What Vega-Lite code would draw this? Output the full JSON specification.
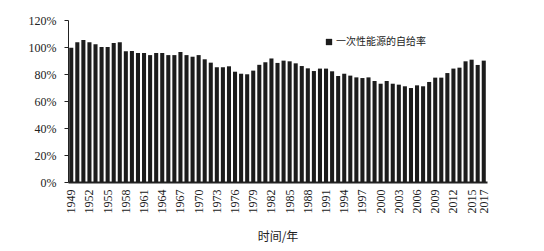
{
  "$schema": "https://vega.github.io/schema/vega-lite/v6.json",
  "width": 419,
  "height": 162,
  "autosize": {"type": "none"},
  "padding": {"left": 68, "top": 20, "right": 57, "bottom": 69},
  "background": "white",
  "config": {"view": {"stroke": null}, "font": "Liberation Serif"},
  "data": {"values": [
    {"year": 1949, "rate": 99.5}, {"year": 1950, "rate": 103.5}, {"year": 1951, "rate": 105.1},
    {"year": 1952, "rate": 103.5}, {"year": 1953, "rate": 102.1}, {"year": 1954, "rate": 100},
    {"year": 1955, "rate": 100}, {"year": 1956, "rate": 103}, {"year": 1957, "rate": 103.5},
    {"year": 1958, "rate": 96.8}, {"year": 1959, "rate": 97}, {"year": 1960, "rate": 95.6},
    {"year": 1961, "rate": 95.6}, {"year": 1962, "rate": 94}, {"year": 1963, "rate": 95.6},
    {"year": 1964, "rate": 95.6}, {"year": 1965, "rate": 94}, {"year": 1966, "rate": 94},
    {"year": 1967, "rate": 96.3}, {"year": 1968, "rate": 94}, {"year": 1969, "rate": 92.8},
    {"year": 1970, "rate": 94}, {"year": 1971, "rate": 90.9}, {"year": 1972, "rate": 88.4},
    {"year": 1973, "rate": 85}, {"year": 1974, "rate": 85}, {"year": 1975, "rate": 85.7},
    {"year": 1976, "rate": 81.7}, {"year": 1977, "rate": 80.2}, {"year": 1978, "rate": 79.8},
    {"year": 1979, "rate": 82.5}, {"year": 1980, "rate": 86.8}, {"year": 1981, "rate": 88.7},
    {"year": 1982, "rate": 91.5}, {"year": 1983, "rate": 88.2}, {"year": 1984, "rate": 89.9},
    {"year": 1985, "rate": 89.4}, {"year": 1986, "rate": 87.9}, {"year": 1987, "rate": 85.9},
    {"year": 1988, "rate": 84.2}, {"year": 1989, "rate": 82.2}, {"year": 1990, "rate": 84},
    {"year": 1991, "rate": 84}, {"year": 1992, "rate": 82}, {"year": 1993, "rate": 78.5},
    {"year": 1994, "rate": 80.2}, {"year": 1995, "rate": 78.8}, {"year": 1996, "rate": 77.5},
    {"year": 1997, "rate": 77}, {"year": 1998, "rate": 77.5}, {"year": 1999, "rate": 74.8},
    {"year": 2000, "rate": 72.8}, {"year": 2001, "rate": 74.8}, {"year": 2002, "rate": 72.8},
    {"year": 2003, "rate": 72.1}, {"year": 2004, "rate": 70.9}, {"year": 2005, "rate": 69.6},
    {"year": 2006, "rate": 71.6}, {"year": 2007, "rate": 70.9}, {"year": 2008, "rate": 74.1},
    {"year": 2009, "rate": 77.3}, {"year": 2010, "rate": 77.3}, {"year": 2011, "rate": 80.7},
    {"year": 2012, "rate": 84}, {"year": 2013, "rate": 84.7}, {"year": 2014, "rate": 89.4},
    {"year": 2015, "rate": 90.6}, {"year": 2016, "rate": 86.7}, {"year": 2017, "rate": 89.9}
  ]},
  "mark": {"type": "bar"},
  "encoding": {
    "x": {
      "field": "year", "type": "ordinal",
      "scale": {"paddingInner": 0.33, "paddingOuter": 0.2},
      "axis": {
        "title": "时间/年",
        "titleFont": "Noto Sans CJK SC",
        "titleFontSize": 12,
        "titleFontWeight": "normal",
        "titleColor": "#222",
        "titlePadding": 18,
        "values": [1949,1952,1955,1958,1961,1964,1967,1970,1973,1976,1979,1982,1985,1988,1991,1994,1997,2000,2003,2006,2009,2012,2015,2017],
        "labelAngle": 270,
        "labelAlign": "right",
        "labelBaseline": "middle",
        "labelFontSize": 12,
        "labelColor": "#222",
        "labelPadding": 7,
        "ticks": false,
        "domainColor": "#222",
        "domainWidth": 2
      }
    },
    "y": {
      "field": "rate", "type": "quantitative",
      "scale": {"domain": [0, 120]},
      "axis": {
        "title": null,
        "values": [0, 20, 40, 60, 80, 100, 120],
        "labelExpr": "datum.value + '%'",
        "labelFontSize": 12,
        "labelColor": "#222",
        "labelPadding": 8,
        "grid": false,
        "tickSize": 4,
        "tickColor": "#222",
        "domainColor": "#222"
      }
    },
    "color": {
      "datum": "一次性能源的自给率",
      "scale": {"range": ["#1c1c1c"]},
      "legend": {
        "title": null,
        "orient": "none",
        "legendX": 256,
        "legendY": 17,
        "symbolType": "square",
        "symbolSize": 40,
        "symbolStrokeWidth": 0,
        "labelFont": "Noto Sans CJK SC",
        "labelFontSize": 10,
        "labelColor": "#222",
        "labelOffset": 2
      }
    }
  }
}
